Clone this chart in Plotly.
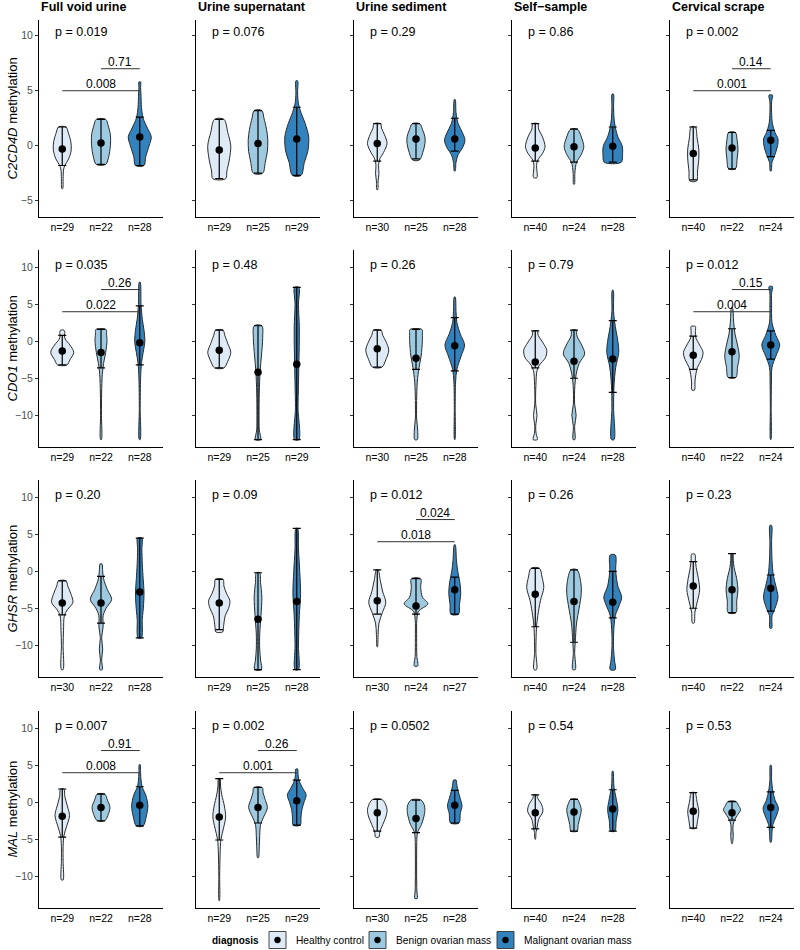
import plotly.graph_objects as go

# ---------------- data ----------------
tissues = ["Full void urine", "Urine supernatant", "Urine sediment", "Self\u2212sample", "Cervical scrape"]
genes = ["C2CD4D", "CDO1", "GHSR", "MAL"]
groups = ["Healthy control", "Benign ovarian mass", "Malignant ovarian mass"]
group_colors = ["#DEEBF7", "#9ECAE1", "#3182BD"]

n_counts = {
    "C2CD4D": [[29, 22, 28], [29, 25, 29], [30, 25, 28], [40, 24, 28], [40, 22, 24]],
    "CDO1":   [[29, 22, 28], [29, 25, 29], [30, 25, 28], [40, 24, 28], [40, 22, 24]],
    "GHSR":   [[30, 22, 28], [29, 25, 28], [30, 24, 27], [40, 24, 28], [40, 22, 24]],
    "MAL":    [[29, 22, 28], [29, 25, 29], [30, 25, 28], [40, 24, 28], [40, 22, 24]],
}

p_values = {
    "C2CD4D": ["0.019", "0.076", "0.29", "0.86", "0.002"],
    "CDO1":   ["0.035", "0.48", "0.26", "0.79", "0.012"],
    "GHSR":   ["0.20", "0.09", "0.012", "0.26", "0.23"],
    "MAL":    ["0.007", "0.002", "0.0502", "0.54", "0.53"],
}

# mean, lower and upper error-bar ends per tissue: [healthy, benign, malignant]
means = {
    "C2CD4D": [[-0.3, 0.25, 0.8], [-0.4, 0.2, 0.6], [0.2, 0.6, 0.6], [-0.2, -0.1, -0.05], [-0.7, -0.2, 0.5]],
    "CDO1":   [[-1.3, -1.5, -0.2], [-1.2, -4.2, -3.1], [-1.0, -2.3, -0.6], [-2.8, -2.7, -2.4], [-1.9, -1.4, -0.5]],
    "GHSR":   [[-4.3, -4.3, -2.8], [-4.3, -6.5, -4.1], [-4.0, -4.7, -2.5], [-3.1, -4.1, -4.2], [-2.0, -2.5, -2.3]],
    "MAL":    [[-1.9, -0.7, -0.4], [-2.0, -0.7, 0.2], [-1.4, -2.2, -0.4], [-1.4, -1.3, -0.9], [-1.2, -1.4, -0.7]],
}
err_lo = {
    "C2CD4D": [[-1.8, -1.7, -1.8], [-3.0, -2.5, -2.7], [-1.4, -1.2, -0.5], [-1.4, -1.5, -1.5], [-3.1, -2.1, -1.0]],
    "CDO1":   [[-3.2, -3.6, -3.2], [-3.6, -13.3, -13.3], [-3.5, -3.8, -4.0], [-3.6, -5.0, -6.9], [-3.8, -4.9, -2.4]],
    "GHSR":   [[-5.9, -7.0, -9.0], [-7.9, -13.3, -13.3], [-5.8, -5.8, -5.8], [-7.5, -9.6, -6.3], [-5.0, -5.6, -5.4]],
    "MAL":    [[-4.7, -2.5, -3.2], [-5.1, -2.8, -3.1], [-3.9, -4.1, -2.8], [-3.6, -3.9, -3.9], [-3.5, -2.4, -3.4]],
}
err_hi = {
    "C2CD4D": [[1.7, 2.4, 2.6], [2.4, 3.2, 3.5], [2.0, 2.0, 2.5], [2.0, 1.5, 1.7], [1.7, 1.2, 1.4]],
    "CDO1":   [[0.8, 1.6, 4.8], [1.5, 2.1, 7.3], [1.5, 1.6, 3.2], [1.4, 1.5, 2.8], [0.7, 1.7, 1.4]],
    "GHSR":   [[-1.3, -0.7, 4.5], [-1.1, -0.2, 5.8], [0.2, -1.0, -0.8], [0.4, 0.2, 0.0], [1.3, 2.4, -0.5]],
    "MAL":    [[1.8, 1.1, 2.1], [3.2, 2.0, 3.0], [0.4, 0.3, 1.6], [1.0, 0.4, 1.7], [1.3, 0.1, 1.4]],
}

# violin density profiles: [value, relative half-width] from bottom to top
profiles = {
    "C2CD4D": [
        [[[-3.9, .01], [-3.0, .02], [-2.2, .03], [-1.8, .06], [-1.2, .15], [-0.4, .21], [0.4, .2], [1.2, .14], [1.7, .09]],
         [[-1.7, .11], [-1.0, .18], [0.0, .22], [1.0, .22], [1.8, .17], [2.4, .11]],
         [[-1.8, .1], [-1.0, .14], [0.0, .22], [0.8, .27], [1.6, .18], [2.5, .08], [3.5, .04], [4.5, .03], [5.3, .02], [5.8, .02]]],
        [[[-3.0, .15], [-2.3, .18], [-1.2, .24], [0.0, .27], [1.2, .2], [2.4, .11]],
         [[-2.5, .11], [-1.5, .17], [-0.5, .22], [0.5, .23], [1.5, .2], [2.5, .14], [3.2, .09]],
         [[-2.7, .1], [-1.5, .18], [-0.5, .26], [0.8, .28], [2.0, .2], [3.0, .1], [3.8, .04], [4.8, .02], [5.9, .02]]],
        [[[-4.0, .01], [-3.2, .02], [-2.5, .04], [-1.8, .03], [-1.2, .06], [-0.6, .15], [0.2, .23], [1.0, .17], [1.6, .1], [2.0, .08]],
         [[-1.3, .08], [-0.6, .16], [0.2, .21], [0.8, .21], [1.5, .15], [2.0, .09]],
         [[-2.3, .01], [-1.5, .03], [-0.8, .08], [-0.2, .18], [0.5, .24], [1.2, .18], [2.0, .08], [3.0, .03], [4.2, .01]]],
        [[[-2.9, .04], [-2.3, .04], [-1.8, .03], [-1.3, .06], [-0.7, .17], [-0.1, .23], [0.8, .17], [1.5, .08], [2.0, .06]],
         [[-3.5, .01], [-2.5, .02], [-1.5, .06], [-0.8, .17], [-0.1, .23], [0.7, .18], [1.5, .08]],
         [[-1.5, .2], [-0.8, .23], [0.0, .22], [0.8, .12], [1.5, .07], [2.5, .03], [3.5, .02], [4.7, .015]]],
        [[[-3.2, .08], [-2.3, .1], [-1.2, .13], [-0.3, .13], [0.7, .09], [1.7, .05]],
         [[-2.1, .08], [-1.2, .12], [-0.3, .14], [0.5, .12], [1.2, .08]],
         [[-2.3, .01], [-1.5, .03], [-0.8, .1], [0.0, .16], [0.6, .17], [1.2, .1], [2.0, .04], [3.0, .02], [4.0, .02], [4.6, .04]]],
    ],
    "CDO1": [
        [[[-3.2, .11], [-2.5, .18], [-1.5, .27], [-0.5, .18], [0.3, .07], [0.8, .05], [1.2, .06], [1.5, .04]],
         [[-13.3, .01], [-10, .01], [-7, .015], [-4.5, .03], [-3.0, .06], [-1.5, .11], [0.0, .14], [1.0, .13], [1.6, .12]],
         [[-13.3, .01], [-9, .01], [-5, .02], [-3.0, .04], [-1.5, .08], [0.0, .12], [1.5, .1], [3.0, .06], [5.0, .03], [8.0, .01]]],
        [[[-3.6, .11], [-2.7, .2], [-1.5, .27], [-0.3, .2], [0.8, .13], [1.5, .09]],
         [[-13.3, .06], [-12, .03], [-10, .025], [-7, .03], [-4, .05], [-2, .08], [0.5, .11], [2.1, .09]],
         [[-13.3, .05], [-9, .03], [-6, .04], [-3, .05], [0, .06], [2, .06], [5, .04], [7.3, .05]]],
        [[[-3.5, .11], [-2.5, .2], [-1.2, .27], [0.0, .2], [0.8, .13], [1.5, .09]],
         [[-13.3, .03], [-12, .04], [-10.5, .015], [-8, .015], [-5.5, .03], [-3.6, .07], [-2.0, .12], [0.0, .15], [1.0, .15], [1.6, .14]],
         [[-13.3, .005], [-9, .01], [-5.5, .02], [-3.8, .05], [-2.0, .15], [-0.5, .23], [1.0, .13], [2.5, .05], [4.0, .03], [6.0, .01]]],
        [[[-13.3, .05], [-12.5, .02], [-11.5, .01], [-10, .04], [-8.5, .01], [-6, .015], [-4.0, .04], [-3.2, .1], [-2.2, .24], [-1.2, .27], [-0.2, .18], [0.8, .07], [1.4, .05]],
         [[-13.3, .02], [-11.5, .015], [-10, .05], [-8.5, .015], [-6, .02], [-4.5, .05], [-3.0, .12], [-1.7, .25], [-0.5, .18], [0.7, .07], [1.5, .05]],
         [[-13.3, .03], [-9, .02], [-6, .03], [-3.5, .07], [-1.5, .14], [0.0, .12], [2.0, .06], [4.0, .02], [6.9, .01]]],
        [[[-6.6, .03], [-5.5, .04], [-4.5, .06], [-3.5, .1], [-2.5, .19], [-1.5, .23], [-0.5, .15], [0.5, .06], [1.3, .05], [2.0, .05]],
         [[-4.9, .09], [-3.5, .13], [-2.0, .17], [-0.5, .13], [1.0, .07], [2.5, .04], [4.6, .01]],
         [[-13.3, .005], [-9, .01], [-6, .015], [-3.5, .03], [-2.0, .12], [-0.5, .21], [0.8, .12], [2.5, .03], [5, .02], [6.5, .02], [7.4, .04]]],
    ],
    "GHSR": [
        [[[-13.3, .02], [-10, .02], [-8, .03], [-6, .05], [-5.2, .12], [-4.2, .25], [-3.0, .2], [-2.0, .13], [-1.3, .09]],
         [[-13.3, .03], [-12, .015], [-10.5, .04], [-9, .015], [-7.5, .05], [-6, .05], [-5, .12], [-3.8, .25], [-2.5, .15], [-1.0, .06], [0.0, .04], [1.0, .02]],
         [[-9.0, .04], [-6.5, .06], [-4.5, .09], [-2.8, .1], [-1.0, .08], [1.0, .06], [3.0, .05], [4.5, .05]]],
        [[[-8.2, .08], [-7.5, .1], [-6.0, .14], [-5.0, .22], [-4.0, .25], [-3.0, .17], [-2.0, .11], [-1.1, .09]],
         [[-13.3, .08], [-12, .06], [-10.5, .04], [-8.5, .04], [-6, .07], [-3.5, .09], [-1.5, .06], [-0.2, .04]],
         [[-13.3, .04], [-10, .04], [-6, .06], [-3, .09], [0, .07], [3, .04], [5.8, .02]]],
        [[[-10.2, .005], [-8.5, .02], [-7, .04], [-5.6, .12], [-4.2, .2], [-2.8, .13], [-1.2, .07], [0.2, .02]],
         [[-12.8, .04], [-11.5, .02], [-9, .015], [-6.5, .02], [-5.4, .06], [-4.4, .28], [-3.5, .15], [-2.2, .11], [-1.0, .11]],
         [[-5.8, .09], [-4.5, .11], [-3.0, .14], [-1.5, .12], [0.0, .07], [1.5, .04], [3.6, .01]]],
        [[[-13.3, .03], [-11, .015], [-9, .02], [-7.5, .03], [-6, .06], [-4, .12], [-2.2, .2], [-0.8, .16], [0.4, .1]],
         [[-13.3, .03], [-11, .015], [-9.5, .03], [-7, .06], [-5, .12], [-3, .17], [-1.5, .16], [0.2, .07]],
         [[-13.3, .06], [-12, .04], [-10.5, .02], [-8.5, .02], [-6, .06], [-4.5, .16], [-3.5, .21], [-2.0, .12], [0.0, .07], [2.2, .06]]],
        [[[-7.0, .02], [-5.5, .04], [-4.0, .1], [-2.5, .15], [-1.0, .12], [0.5, .07], [1.5, .05], [2.3, .04]],
         [[-5.6, .09], [-4.0, .11], [-2.5, .14], [-1.0, .11], [0.5, .05], [1.5, .03], [2.4, .02]],
         [[-7.7, .02], [-6, .03], [-5, .1], [-3.5, .17], [-2, .12], [-0.5, .06], [1.5, .03], [4.0, .02], [6.2, .02]]],
    ],
    "MAL": [
        [[[-10.5, .02], [-8, .02], [-6, .02], [-4.5, .04], [-3.3, .1], [-1.8, .17], [-0.5, .12], [0.8, .06], [1.8, .04]],
         [[-2.5, .09], [-1.8, .16], [-0.7, .21], [0.3, .15], [1.1, .09]],
         [[-3.2, .08], [-2.0, .15], [-0.5, .19], [1.0, .14], [2.0, .06], [3.0, .03], [4.0, .02], [5.1, .01]]],
        [[[-13.3, .005], [-10, .01], [-7, .02], [-5, .04], [-3.5, .1], [-2, .15], [-0.5, .12], [1, .06], [2.2, .03], [3.2, .02]],
         [[-7.5, .01], [-6, .03], [-4.5, .04], [-3, .06], [-2, .13], [-0.7, .22], [0.5, .16], [1.3, .12], [2.0, .1]],
         [[-3.1, .08], [-2, .1], [-1, .12], [0, .17], [1, .22], [2, .13], [3, .05], [3.8, .03], [4.5, .02]]],
        [[[-4.7, .04], [-4.0, .06], [-3.0, .13], [-2.0, .2], [-1.0, .23], [0.0, .17], [0.4, .1]],
         [[-13, .03], [-12, .02], [-10, .015], [-7, .015], [-5, .02], [-4, .04], [-3, .13], [-1.5, .2], [-0.5, .2], [0.3, .12]],
         [[-2.8, .1], [-1.5, .13], [-0.5, .17], [0.5, .13], [1.5, .08], [2.3, .05], [3.0, .03]]],
        [[[-5.0, .005], [-4.0, .02], [-3.5, .04], [-2.3, .08], [-1.2, .18], [-0.2, .14], [0.5, .06], [1.0, .03]],
         [[-3.9, .07], [-3.0, .1], [-2.0, .14], [-1.0, .17], [0.0, .12], [0.4, .08]],
         [[-3.9, .05], [-2.5, .08], [-1.0, .12], [0.5, .08], [2.0, .03], [3.0, .02], [4.2, .01]]],
        [[[-3.5, .06], [-2.5, .1], [-1.2, .13], [0.0, .09], [1.3, .04]],
         [[-5.6, .005], [-4.5, .03], [-3.5, .02], [-2.5, .05], [-1.8, .12], [-1.0, .2], [-0.4, .15], [0.1, .1]],
         [[-5.4, .01], [-4.0, .03], [-3.0, .05], [-2.0, .12], [-0.8, .18], [0.3, .1], [1.5, .05], [3.0, .02], [5.0, .01]]],
    ],
}

# pairwise comparisons: (group a, group b, bracket height, label)
brackets = {
    ("C2CD4D", 0): [(1, 3, 5.0, "0.008"), (2, 3, 7.0, "0.71")],
    ("C2CD4D", 4): [(1, 3, 5.0, "0.001"), (2, 3, 7.0, "0.14")],
    ("CDO1", 0):   [(1, 3, 4.0, "0.022"), (2, 3, 7.0, "0.26")],
    ("CDO1", 4):   [(1, 3, 4.0, "0.004"), (2, 3, 7.0, "0.15")],
    ("GHSR", 2):   [(1, 3, 4.0, "0.018"), (2, 3, 7.0, "0.024")],
    ("MAL", 0):    [(1, 3, 4.0, "0.008"), (2, 3, 7.0, "0.91")],
    ("MAL", 1):    [(1, 3, 4.0, "0.001"), (2, 3, 7.0, "0.26")],
}

# ---------------- layout geometry (pixels) ----------------
W, H = 800, 950
FONT = "Liberation Sans, Arial, Helvetica, sans-serif"
col_left = [39, 196, 354, 512, 670]
panel_w = 124
row_top = [20, 250, 480, 711]
panel_h = 197
y_ranges = [[-6.48, 11.43], [-14.3, 12.35], [-14.3, 12.35], [-14.3, 12.35]]
y_ticks = [[-5, 0, 5, 10], [-10, -5, 0, 5, 10], [-10, -5, 0, 5, 10], [-10, -5, 0, 5, 10]]
WSCALE = 1.1

fig = go.Figure()
annotations = []
shapes = []
layout_axes = {}

for r, gene in enumerate(genes):
    for c, tissue in enumerate(tissues):
        k = r * 5 + c + 1
        xa = "x" if k == 1 else f"x{k}"
        ya = "y" if k == 1 else f"y{k}"
        # violins
        for g in range(3):
            prof = profiles[gene][c][g]
            ys = [p[0] for p in prof]
            ws = [p[1] * WSCALE for p in prof]
            cx = g + 1
            xs = [cx + w for w in ws] + [cx - w for w in ws[::-1]] + [cx + ws[0]]
            yy = ys + ys[::-1] + [ys[0]]
            fig.add_trace(go.Scatter(
                x=xs, y=yy, xaxis=xa, yaxis=ya, mode="lines", fill="toself",
                fillcolor=group_colors[g],
                line=dict(color="#2B2B2B", width=1.0, shape="spline", smoothing=0.9),
                hoverinfo="skip", showlegend=False))
        # error bars + mean points
        m = means[gene][c]
        lo = err_lo[gene][c]
        hi = err_hi[gene][c]
        fig.add_trace(go.Scatter(
            x=[1, 2, 3], y=m, xaxis=xa, yaxis=ya, mode="markers",
            marker=dict(color="black", size=7.5),
            error_y=dict(type="data", symmetric=False,
                         array=[hi[i] - m[i] for i in range(3)],
                         arrayminus=[m[i] - lo[i] for i in range(3)],
                         width=4, thickness=1.2, color="black"),
            hoverinfo="skip", showlegend=False))
        # brackets
        for (a, b, yb, lab) in brackets.get((gene, c), []):
            fig.add_trace(go.Scatter(
                x=[a, b], y=[yb, yb], xaxis=xa, yaxis=ya, mode="lines",
                line=dict(color="#333333", width=1), hoverinfo="skip", showlegend=False))
            annotations.append(dict(x=(a + b) / 2, y=yb, xref=xa, yref=ya, text=lab,
                                    showarrow=False, yanchor="bottom", xanchor="center",
                                    yshift=-2, font=dict(size=12, color="black", family=FONT)))
        # p-value label
        annotations.append(dict(x=0.76, y=10.3, xref=xa, yref=ya, text=f"p = {p_values[gene][c]}",
                                showarrow=False, xanchor="left", yanchor="middle",
                                font=dict(size=12.5, color="black", family=FONT)))
        # axes
        x0 = col_left[c] / W
        x1 = (col_left[c] + panel_w) / W
        y1 = 1 - row_top[r] / H
        y0 = 1 - (row_top[r] + panel_h) / H
        xkey = "xaxis" if k == 1 else f"xaxis{k}"
        ykey = "yaxis" if k == 1 else f"yaxis{k}"
        layout_axes[xkey] = dict(
            domain=[x0, x1], anchor=ya, range=[0.4, 3.6], showgrid=False, zeroline=False,
            showline=True, linecolor="black", linewidth=1.1, ticks="", ticklen=0,
            tickvals=[1, 2, 3], ticktext=[f"n={n}" for n in n_counts[gene][c]],
            tickfont=dict(size=10.5, color="black", family=FONT), fixedrange=True)
        layout_axes[ykey] = dict(
            domain=[y0, y1], anchor=xa, range=y_ranges[r], showgrid=False, zeroline=False,
            showline=True, linecolor="black", linewidth=1.1, ticks="outside", ticklen=3,
            tickcolor="#333333", tickwidth=1, tickvals=y_ticks[r],
            ticktext=[str(t).replace("-", "\u2212") for t in y_ticks[r]],
            showticklabels=(c == 0), tickfont=dict(size=10.5, color="#4D4D4D", family=FONT),
            fixedrange=True)
    # row y-axis title
    annotations.append(dict(x=12 / W, y=1 - (row_top[r] + panel_h / 2) / H, xref="paper", yref="paper",
                            text=f"<i>{gene}</i> methylation", textangle=-90, showarrow=False,
                            xanchor="center", yanchor="middle",
                            font=dict(size=13, color="black", family=FONT)))

# column titles
for c, tissue in enumerate(tissues):
    annotations.append(dict(x=col_left[c] / W, y=1 - 7 / H, xref="paper", yref="paper",
                            text=f"<b>{tissue}</b>", showarrow=False, xanchor="left", yanchor="middle",
                            font=dict(size=12.5, color="black", family=FONT)))

# legend (manual, ggplot style)
leg_y = 940
annotations.append(dict(x=261 / W, y=1 - leg_y / H, xref="paper", yref="paper", text="<b>diagnosis</b>",
                        showarrow=False, xanchor="right", yanchor="middle",
                        font=dict(size=10, color="black", family=FONT)))
key_x = [269, 369, 497]
for g in range(3):
    bx = key_x[g]
    shapes.append(dict(type="rect", xref="paper", yref="paper",
                       x0=bx / W, x1=(bx + 17) / W, y0=1 - (leg_y + 8.5) / H, y1=1 - (leg_y - 8.5) / H,
                       fillcolor=group_colors[g], line=dict(color="#333333", width=0.9)))
    shapes.append(dict(type="circle", xref="paper", yref="paper",
                       x0=(bx + 5.5) / W, x1=(bx + 11.5) / W, y0=1 - (leg_y + 3) / H, y1=1 - (leg_y - 3) / H,
                       fillcolor="black", line=dict(color="black", width=0.5)))
    annotations.append(dict(x=(bx + 25) / W, y=1 - leg_y / H, xref="paper", yref="paper", text=groups[g],
                            showarrow=False, xanchor="left", yanchor="middle",
                            font=dict(size=10.2, color="black", family=FONT)))

fig.update_layout(
    width=W, height=H, margin=dict(l=0, r=0, t=0, b=0),
    paper_bgcolor="white", plot_bgcolor="white",
    showlegend=False, annotations=annotations, shapes=shapes,
    font=dict(family=FONT, color="black"), hovermode=False, **layout_axes)

# remove the browser's default 8px page margin so the figure sits at the window origin
fig.write_html("out.html", config={"displayModeBar": False},
               post_script="document.body.style.margin='0px';")
